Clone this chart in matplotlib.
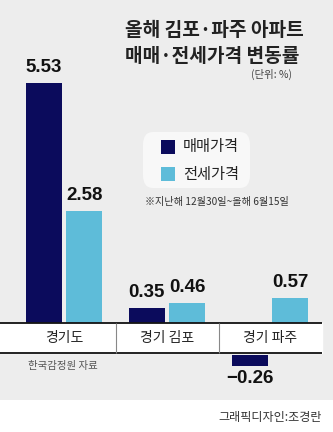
import matplotlib.pyplot as plt
from matplotlib.patches import Rectangle, FancyBboxPatch

plt.rcParams['font.family'] = ['Noto Sans CJK KR', 'DejaVu Sans']

# data
categories = ['경기도', '경기 김포', '경기 파주']
sale = [5.53, 0.35, -0.26]      # 매매가격
jeonse = [2.58, 0.46, 0.57]     # 전세가격
series_names = ['매매가격', '전세가격']
title_lines = ['올해 김포·파주 아파트', '매매·전세가격 변동률']
unit_text = '(단위: %)'
period_note = '※지난해 12월30일~올해 6월15일'
source_text = '한국감정원 자료'
credit_text = '그래픽디자인:조경란'

dark = '#0b0b5c'
light = '#5ebcd9'
bg = '#ededed'
W, H = 333, 432
num_font = ['Liberation Sans Narrow', 'Liberation Sans', 'DejaVu Sans']

fig = plt.figure(figsize=(W / 100, H / 100), dpi=100, facecolor='white')

def fx(x):
    return x / W

def fy(y):
    return 1 - y / H

# gray panel
fig.patches.append(Rectangle((0, fy(400)), 1, 1 - fy(400), transform=fig.transFigure,
                             facecolor=bg, edgecolor='none', zorder=-5))

ax = fig.add_axes([0, 0, 1, 1])
ax.set_facecolor('none')
ax.axis('off')

grp = 103.0       # px between groups
unit = 43.4       # px per 1%
x0 = 64.0         # px of first group
y0 = 323.0        # px of zero line
ax.set_xlim(-x0 / grp, (W - x0) / grp)
ax.set_ylim(-(H - y0) / unit, y0 / unit)

band = 30 / unit      # category band height
gap = 2 / unit
w = 0.35
off = 0.197

def base(v):
    return 0 if v >= 0 else -band - gap

for i, (a, b) in enumerate(zip(sale, jeonse)):
    for v, dx, c in ((a, -off, dark), (b, off, light)):
        ax.bar(i + dx, v, w, bottom=base(v), color=c, zorder=2)
        if v >= 0:
            ax.text(i + dx, v + 7 / unit, f'{v:.2f}', ha='center', va='bottom',
                    fontsize=13.5, fontweight='bold', family=num_font, color='#111')
        else:
            ax.text(i + dx, base(v) + v - 4 / unit, f'\u2212{abs(v):.2f}', ha='center',
                    va='top', fontsize=13.5, fontweight='bold', family=num_font, color='#111')

# category band
xl, xr = ax.get_xlim()[0], (322 - x0) / grp
ax.fill_between([xl, xr], -band, 0, color='white', zorder=3)
ax.hlines([0, -band], xl, xr, color='#111', lw=1.3, zorder=4)
ax.vlines([0.5, 1.5], -band, 0, color='#888', lw=0.8, zorder=4)
for i, c in enumerate(categories):
    ax.text(i, -band / 2, c, ha='center', va='center', fontsize=10, color='#222', zorder=5)

# title
fig.text(fx(125), fy(30), title_lines[0], ha='left', va='center', fontsize=13.8,
         fontweight='bold', color='#222')
fig.text(fx(125), fy(57), title_lines[1], ha='left', va='center', fontsize=13.8,
         fontweight='bold', color='#222')
fig.text(fx(292), fy(74), unit_text, ha='right', va='center', fontsize=7.5, color='#444')

# legend box
fig.patches.append(FancyBboxPatch((fx(143), fy(188)), fx(107), 56 / H,
                                  boxstyle='round,pad=0,rounding_size=0.03',
                                  transform=fig.transFigure, facecolor='#f8f8f8',
                                  edgecolor='none', zorder=1))
for yc, c, name in ((147, dark, series_names[0]), (174, light, series_names[1])):
    fig.patches.append(Rectangle((fx(161), fy(yc + 7)), fx(14), 14 / H,
                                 transform=fig.transFigure, facecolor=c,
                                 edgecolor='none', zorder=2))
    fig.text(fx(183), fy(yc), name, ha='left', va='center', fontsize=11,
             color='#222', zorder=3)
fig.text(fx(145), fy(202), period_note, ha='left', va='center', fontsize=7.3, color='#333')

fig.text(fx(28), fy(366), source_text, ha='left', va='center', fontsize=7.5, color='#555')
fig.text(fx(322), fy(418), credit_text, ha='right', va='center', fontsize=8.7, color='#333')

fig.savefig('out.png', dpi=100, facecolor='white')
